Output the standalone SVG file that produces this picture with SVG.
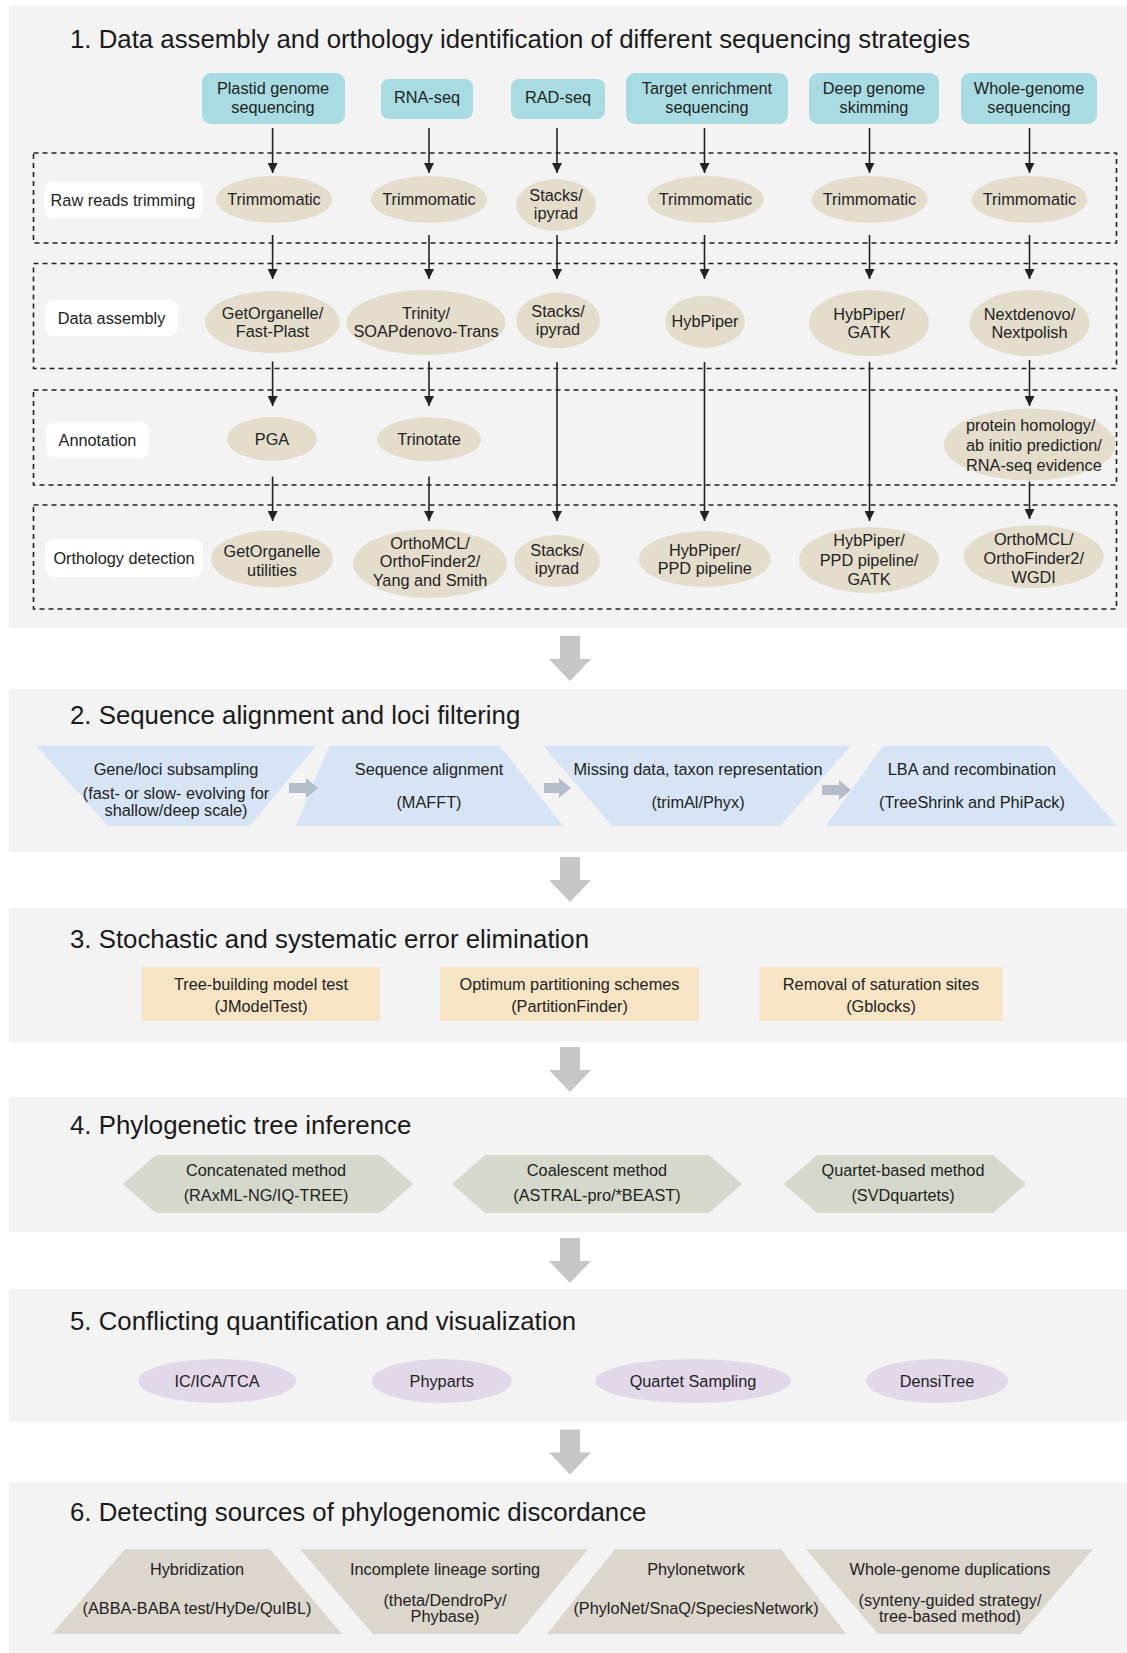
<svg xmlns="http://www.w3.org/2000/svg" width="1127" height="1653" viewBox="0 0 1127 1653">
<style>
text { font-family: "Liberation Sans", Arial, sans-serif; fill: #222; }
.title { font-size: 25.8px; fill: #1a1a1a; }
.t { font-size: 16.3px; text-anchor: middle; }
.tl { font-size: 16.3px; text-anchor: start; }
.panel { fill: #f3f3f3; }
.seq { fill: #a9dce2; }
.tool { fill: #e5ddcc; }
.lab { fill: #ffffff; }
.dash { fill: none; stroke: #222; stroke-width: 1.6; stroke-dasharray: 5 4; }
.conn { stroke: #222; stroke-width: 1.6; fill: none; marker-end: url(#ah); }
.blue { fill: #d6e4f5; }
.sarrow { fill: #b4bdca; }
.tan { fill: #f6e4c4; }
.hex { fill: #d4d9cb; }
.lav { fill: #e2d8ea; }
.beige { fill: #ddd6cd; }
.big { fill: #c6c6c6; }
</style>
<defs>
<marker id="ah" markerUnits="userSpaceOnUse" markerWidth="10" markerHeight="10" refX="10" refY="5" orient="auto">
<path d="M0,0 L10,5 L0,10 z" fill="#222"/>
</marker>
</defs>
<rect width="1127" height="1653" fill="#ffffff"/>

<!-- Panels -->
<g id="panels">
<rect class="panel" x="9" y="6" width="1118" height="622"/>
<rect class="panel" x="9" y="689" width="1118" height="163"/>
<rect class="panel" x="9" y="908" width="1118" height="134"/>
<rect class="panel" x="9" y="1097" width="1118" height="135"/>
<rect class="panel" x="9" y="1289" width="1118" height="133"/>
<rect class="panel" x="9" y="1482" width="1118" height="171"/>
</g>

<g id="titles">
<text class="title" x="70" y="48">1. Data assembly and orthology identification of different sequencing strategies</text>
<text class="title" x="70" y="724">2. Sequence alignment and loci filtering</text>
<text class="title" x="70" y="947.5">3. Stochastic and systematic error elimination</text>
<text class="title" x="70" y="1134">4. Phylogenetic tree inference</text>
<text class="title" x="70" y="1330">5. Conflicting quantification and visualization</text>
<text class="title" x="70" y="1521">6. Detecting sources of phylogenomic discordance</text>
</g>

<!-- Dashed stage boxes -->
<g id="stages">
<rect class="dash" x="33.5" y="153" width="1083" height="90"/>
<rect class="dash" x="33.5" y="263.5" width="1083" height="105"/>
<rect class="dash" x="33.5" y="390" width="1083" height="95"/>
<rect class="dash" x="33.5" y="505" width="1083" height="104"/>
</g>

<!-- Stage labels -->
<g id="label-raw"><rect class="lab" x="44" y="182" width="159" height="36" rx="9"/><text class="t" x="123" y="205.7">Raw reads trimming</text></g>
<g id="label-assembly"><rect class="lab" x="45" y="300" width="133" height="36" rx="9"/><text class="t" x="111.5" y="323.7">Data assembly</text></g>
<g id="label-annotation"><rect class="lab" x="46" y="422" width="103" height="36" rx="9"/><text class="t" x="97.5" y="445.7">Annotation</text></g>
<g id="label-orthology"><rect class="lab" x="45" y="539" width="158" height="38" rx="9"/><text class="t" x="124" y="563.7">Orthology detection</text></g>

<!-- Connectors -->
<g id="connectors">
<line class="conn" x1="272.6" y1="128" x2="272.6" y2="173"/>
<line class="conn" x1="429" y1="128" x2="429" y2="173"/>
<line class="conn" x1="557" y1="128" x2="557" y2="173"/>
<line class="conn" x1="704.5" y1="128" x2="704.5" y2="173"/>
<line class="conn" x1="869.5" y1="128" x2="869.5" y2="173"/>
<line class="conn" x1="1029.5" y1="128" x2="1029.5" y2="173"/>

<line class="conn" x1="272.6" y1="235" x2="272.6" y2="279"/>
<line class="conn" x1="429" y1="235" x2="429" y2="279"/>
<line class="conn" x1="557" y1="235" x2="557" y2="279"/>
<line class="conn" x1="704.5" y1="235" x2="704.5" y2="279"/>
<line class="conn" x1="869.5" y1="235" x2="869.5" y2="279"/>
<line class="conn" x1="1029.5" y1="235" x2="1029.5" y2="279"/>

<line class="conn" x1="272.6" y1="361.5" x2="272.6" y2="406"/>
<line class="conn" x1="429" y1="361.5" x2="429" y2="406"/>
<line class="conn" x1="1029.5" y1="360" x2="1029.5" y2="406"/>

<line class="conn" x1="557" y1="362" x2="557" y2="521"/>
<line class="conn" x1="704.5" y1="362" x2="704.5" y2="521"/>
<line class="conn" x1="869.5" y1="362" x2="869.5" y2="521"/>

<line class="conn" x1="272.6" y1="476.5" x2="272.6" y2="521"/>
<line class="conn" x1="429" y1="476.5" x2="429" y2="521"/>
<line class="conn" x1="1029.5" y1="481.5" x2="1029.5" y2="519"/>
</g>

<!-- Sequencing strategies -->
<g id="seq-plastid"><rect class="seq" x="202" y="73" width="143" height="51" rx="9"/><text class="t" x="273" y="94">Plastid genome</text><text class="t" x="273" y="113">sequencing</text></g>
<g id="seq-rna"><rect class="seq" x="381" y="79" width="92" height="40" rx="8"/><text class="t" x="427" y="103">RNA-seq</text></g>
<g id="seq-rad"><rect class="seq" x="511" y="79" width="94" height="40" rx="8"/><text class="t" x="558" y="103">RAD-seq</text></g>
<g id="seq-target"><rect class="seq" x="626" y="73" width="162" height="51" rx="9"/><text class="t" x="707" y="94">Target enrichment</text><text class="t" x="707" y="113">sequencing</text></g>
<g id="seq-deep"><rect class="seq" x="809" y="73" width="130" height="51" rx="9"/><text class="t" x="874" y="94">Deep genome</text><text class="t" x="874" y="113">skimming</text></g>
<g id="seq-whole"><rect class="seq" x="961" y="73" width="136" height="51" rx="9"/><text class="t" x="1029" y="94">Whole-genome</text><text class="t" x="1029" y="113">sequencing</text></g>

<!-- Row 1: trimming -->
<g id="trim-1"><ellipse class="tool" cx="274" cy="199.5" rx="58" ry="23.5"/><text class="t" x="274" y="205.2">Trimmomatic</text></g>
<g id="trim-2"><ellipse class="tool" cx="429" cy="199.5" rx="58" ry="23.5"/><text class="t" x="429" y="205.2">Trimmomatic</text></g>
<g id="trim-3"><ellipse class="tool" cx="556" cy="205" rx="40" ry="26"/><text class="t" x="556" y="200.7">Stacks/</text><text class="t" x="556" y="219">ipyrad</text></g>
<g id="trim-4"><ellipse class="tool" cx="705.5" cy="199.5" rx="58" ry="23.5"/><text class="t" x="705.5" y="205.2">Trimmomatic</text></g>
<g id="trim-5"><ellipse class="tool" cx="869.5" cy="199.5" rx="58" ry="23.5"/><text class="t" x="869.5" y="205.2">Trimmomatic</text></g>
<g id="trim-6"><ellipse class="tool" cx="1029.5" cy="199.5" rx="58" ry="23.5"/><text class="t" x="1029.5" y="205.2">Trimmomatic</text></g>

<!-- Row 2: assembly -->
<g id="asm-1"><ellipse class="tool" cx="272.5" cy="322" rx="67.5" ry="31"/><text class="t" x="272.5" y="319">GetOrganelle/</text><text class="t" x="272.5" y="337.4">Fast-Plast</text></g>
<g id="asm-2"><ellipse class="tool" cx="426" cy="322.5" rx="79.5" ry="32.5"/><text class="t" x="426" y="319">Trinity/</text><text class="t" x="426" y="337.4">SOAPdenovo-Trans</text></g>
<g id="asm-3"><ellipse class="tool" cx="558" cy="320.5" rx="42" ry="28"/><text class="t" x="558" y="317">Stacks/</text><text class="t" x="558" y="335">ipyrad</text></g>
<g id="asm-4"><ellipse class="tool" cx="705" cy="321.7" rx="40" ry="26"/><text class="t" x="705" y="327.4">HybPiper</text></g>
<g id="asm-5"><ellipse class="tool" cx="869" cy="323" rx="60" ry="33"/><text class="t" x="869" y="319.7">HybPiper/</text><text class="t" x="869" y="337.7">GATK</text></g>
<g id="asm-6"><ellipse class="tool" cx="1029.5" cy="323" rx="60" ry="33"/><text class="t" x="1029.5" y="319.7">Nextdenovo/</text><text class="t" x="1029.5" y="337.7">Nextpolish</text></g>

<!-- Row 3: annotation -->
<g id="ann-1"><ellipse class="tool" cx="272" cy="439" rx="45" ry="22"/><text class="t" x="272" y="444.7">PGA</text></g>
<g id="ann-2"><ellipse class="tool" cx="429" cy="439.3" rx="52" ry="22"/><text class="t" x="429" y="444.7">Trinotate</text></g>
<g id="ann-6"><ellipse class="tool" cx="1030" cy="444.5" rx="86" ry="36"/><text class="tl" x="966" y="430.7">protein homology/</text><text class="tl" x="966" y="450.7">ab initio prediction/</text><text class="tl" x="966" y="470.7">RNA-seq evidence</text></g>

<!-- Row 4: orthology -->
<g id="orth-1"><ellipse class="tool" cx="272" cy="559" rx="61" ry="28.5"/><text class="t" x="272" y="557.4">GetOrganelle</text><text class="t" x="272" y="576.4">utilities</text></g>
<g id="orth-2"><ellipse class="tool" cx="430" cy="563.5" rx="77" ry="34.5"/><text class="t" x="430" y="549">OrthoMCL/</text><text class="t" x="430" y="567.4">OrthoFinder2/</text><text class="t" x="430" y="586.4">Yang and Smith</text></g>
<g id="orth-3"><ellipse class="tool" cx="557" cy="561" rx="43" ry="26"/><text class="t" x="557" y="555.7">Stacks/</text><text class="t" x="557" y="574">ipyrad</text></g>
<g id="orth-4"><ellipse class="tool" cx="704.7" cy="559" rx="66" ry="28"/><text class="t" x="704.7" y="555.7">HybPiper/</text><text class="t" x="704.7" y="574">PPD pipeline</text></g>
<g id="orth-5"><ellipse class="tool" cx="869" cy="560" rx="70" ry="33"/><text class="t" x="869" y="546.4">HybPiper/</text><text class="t" x="869" y="565.7">PPD pipeline/</text><text class="t" x="869" y="585">GATK</text></g>
<g id="orth-6"><ellipse class="tool" cx="1033.7" cy="556.7" rx="70" ry="31.5"/><text class="t" x="1033.7" y="545">OrthoMCL/</text><text class="t" x="1033.7" y="564">OrthoFinder2/</text><text class="t" x="1033.7" y="583">WGDI</text></g>

<!-- Big flow arrows between panels -->
<g id="flow-arrows">
<path class="big" d="M560,636 h20 v23 h11 l-21,22 l-21,-22 h11 z"/>
<path class="big" d="M560,857 h20 v23 h11 l-21,22 l-21,-22 h11 z"/>
<path class="big" d="M560,1047 h20 v23 h11 l-21,22 l-21,-22 h11 z"/>
<path class="big" d="M560,1238 h20 v23 h11 l-21,22 l-21,-22 h11 z"/>
<path class="big" d="M560,1429.5 h20 v23 h11 l-21,22 l-21,-22 h11 z"/>
</g>

<!-- Section 2 -->
<g id="s2-subsampling"><polygon class="blue" points="36,745.7 316,745.7 250,825.7 108,825.7"/><text class="t" x="176" y="775">Gene/loci subsampling</text><text class="t" x="176" y="799">(fast- or slow- evolving for</text><text class="t" x="176" y="816.4">shallow/deep scale)</text></g>
<g id="s2-alignment"><polygon class="blue" points="329,745.7 500,745.7 563,825.7 296,825.7"/><text class="t" x="429" y="775">Sequence alignment</text><text class="t" x="429" y="808.4">(MAFFT)</text></g>
<g id="s2-missing"><polygon class="blue" points="543,745.7 851,745.7 780,825.7 612,825.7"/><text class="t" x="698" y="775">Missing data, taxon representation</text><text class="t" x="698" y="808.4">(trimAl/Phyx)</text></g>
<g id="s2-lba"><polygon class="blue" points="883,745.7 1047,745.7 1117,825.7 826,825.7"/><text class="t" x="972" y="775">LBA and recombination</text><text class="t" x="972" y="808.4">(TreeShrink and PhiPack)</text></g>
<g id="s2-arrows">
<path class="sarrow" d="M289,783 h17 v-5 l12,10 l-12,10 v-5 h-17 z"/>
<path class="sarrow" d="M544,783 h15 v-5 l12,10 l-12,10 v-5 h-15 z"/>
<path class="sarrow" d="M822,785 h17 v-5 l12,10 l-12,10 v-5 h-17 z"/>
</g>

<!-- Section 3 -->
<g id="s3-model"><rect class="tan" x="142" y="967" width="238" height="54"/><text class="t" x="261" y="989.7">Tree-building model test</text><text class="t" x="261" y="1011.7">(JModelTest)</text></g>
<g id="s3-partition"><rect class="tan" x="440" y="967" width="259" height="54"/><text class="t" x="569.5" y="989.7">Optimum partitioning schemes</text><text class="t" x="569.5" y="1011.7">(PartitionFinder)</text></g>
<g id="s3-saturation"><rect class="tan" x="759.5" y="967" width="243" height="54"/><text class="t" x="881" y="989.7">Removal of saturation sites</text><text class="t" x="881" y="1011.7">(Gblocks)</text></g>

<!-- Section 4 -->
<g id="s4-concat"><polygon class="hex" points="123,1184 156,1155 380,1155 413,1184 380,1213 156,1213"/><text class="t" x="266" y="1176.4">Concatenated method</text><text class="t" x="266" y="1200.7">(RAxML-NG/IQ-TREE)</text></g>
<g id="s4-coalescent"><polygon class="hex" points="452,1184 485,1155 709,1155 742,1184 709,1213 485,1213"/><text class="t" x="597" y="1176.4">Coalescent method</text><text class="t" x="597" y="1200.7">(ASTRAL-pro/*BEAST)</text></g>
<g id="s4-quartet"><polygon class="hex" points="784,1184 817,1155 993,1155 1026,1184 993,1213 817,1213"/><text class="t" x="903" y="1176.4">Quartet-based method</text><text class="t" x="903" y="1200.7">(SVDquartets)</text></g>

<!-- Section 5 -->
<g id="s5-ic"><ellipse class="lav" cx="217" cy="1381" rx="79" ry="22"/><text class="t" x="217" y="1386.7">IC/ICA/TCA</text></g>
<g id="s5-phyparts"><ellipse class="lav" cx="441.7" cy="1381" rx="70" ry="22"/><text class="t" x="441.7" y="1386.7">Phyparts</text></g>
<g id="s5-qs"><ellipse class="lav" cx="693" cy="1381" rx="98" ry="22"/><text class="t" x="693" y="1386.7">Quartet Sampling</text></g>
<g id="s5-densitree"><ellipse class="lav" cx="937" cy="1381" rx="71" ry="22"/><text class="t" x="937" y="1386.7">DensiTree</text></g>

<!-- Section 6 -->
<g id="s6-hybrid"><polygon class="beige" points="125,1549.3 270,1549.3 342,1634 52,1634"/><text class="t" x="197" y="1575">Hybridization</text><text class="t" x="197" y="1614">(ABBA-BABA test/HyDe/QuIBL)</text></g>
<g id="s6-ils"><polygon class="beige" points="300,1549.3 588,1549.3 518,1634 373,1634"/><text class="t" x="445" y="1575">Incomplete lineage sorting</text><text class="t" x="445" y="1605.7">(theta/DendroPy/</text><text class="t" x="445" y="1621.7">Phybase)</text></g>
<g id="s6-network"><polygon class="beige" points="615,1549.3 781,1549.3 846,1634 547,1634"/><text class="t" x="696" y="1575">Phylonetwork</text><text class="t" x="696" y="1614">(PhyloNet/SnaQ/SpeciesNetwork)</text></g>
<g id="s6-wgd"><polygon class="beige" points="806,1549.3 1093,1549.3 1021,1634 878,1634"/><text class="t" x="950" y="1575">Whole-genome duplications</text><text class="t" x="950" y="1605.7">(synteny-guided strategy/</text><text class="t" x="950" y="1621.7">tree-based method)</text></g>
</svg>
